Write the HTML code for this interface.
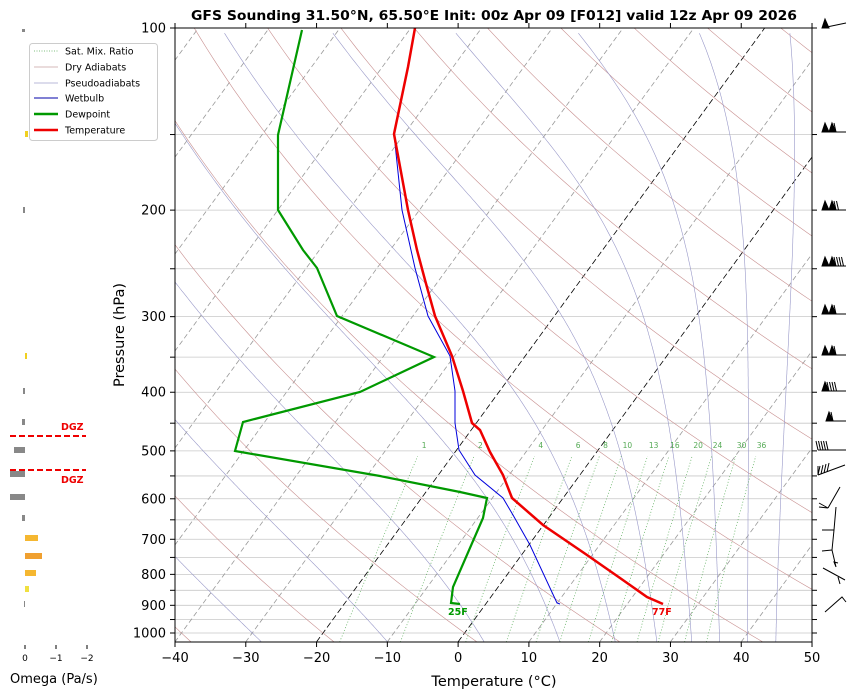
<!DOCTYPE html>
<html><head><meta charset="utf-8"><style>
html,body{margin:0;padding:0;background:#fff;width:853px;height:694px;overflow:hidden}
svg{display:block;font-family:"DejaVu Sans","Liberation Sans",sans-serif}
</style></head><body>
<svg id="s" width="853" height="694" viewBox="0 0 853 694" xmlns="http://www.w3.org/2000/svg">
<defs><clipPath id="c"><rect x="175" y="28" width="637" height="614"/></clipPath></defs>
<g id="bg" clip-path="url(#c)"></g>
<g id="fg" clip-path="url(#c)">
<polyline fill="none" stroke="#0000dd" stroke-width="1" points="560,604 557,603 530,545 513,515 503,498 475,475 459,450 455,423 455,391 450,356 428,316 415,268 402,210 394,134 408,67 415,30"/>
<polyline fill="none" stroke="#009900" stroke-width="2.2" points="460,604 451,603 453,587 483,518 487,498 460,492 380,476 235,451 243,422 360,392 434,357 337,316 317,268 303,250 278,210 278,135 302,30"/>
<polyline fill="none" stroke="#ee0000" stroke-width="2.5" points="663,604 647,597 620,578 587,555 543,525 512,498 503,475 490,452 480,430 472,423 463,391 452,356 435,316 425,280 417,250 408,210 394,134 408,67 415,28"/>
</g>
<text x="448" y="615" font-size="9.5" font-weight="bold" fill="#009900">25F</text>
<text x="652" y="615" font-size="9.5" font-weight="bold" fill="#ee0000">77F</text>
<rect x="175" y="28" width="637" height="614" fill="none" stroke="#000" stroke-width="1"/>
<g id="ax" font-size="13" fill="#000"></g>
<text x="494" y="20" font-size="13" font-weight="bold" text-anchor="middle" textLength="606" lengthAdjust="spacingAndGlyphs">GFS Sounding 31.50°N, 65.50°E Init: 00z Apr 09 [F012] valid 12z Apr 09 2026</text>
<text x="494" y="686" font-size="14.5" text-anchor="middle">Temperature (°C)</text>
<text transform="translate(124,335) rotate(-90)" font-size="14.5" text-anchor="middle">Pressure (hPa)</text>
<g font-size="9.5">
<rect x="29.5" y="43.5" width="128" height="97" rx="3" fill="#fff" stroke="#ccc"/>
<line x1="34" y1="51" x2="58" y2="51" stroke="#55aa55" stroke-dasharray="1,1.5" stroke-width="0.8"/><text x="65" y="54.5">Sat. Mix. Ratio</text>
<line x1="34" y1="67" x2="58" y2="67" stroke="#c8a0a0" stroke-width="0.8"/><text x="65" y="70.5">Dry Adiabats</text>
<line x1="34" y1="83" x2="58" y2="83" stroke="#a0a0cc" stroke-width="0.8"/><text x="65" y="86.5">Pseudoadiabats</text>
<line x1="34" y1="98" x2="58" y2="98" stroke="#0000aa" stroke-width="1"/><text x="65" y="101.5">Wetbulb</text>
<line x1="34" y1="114" x2="58" y2="114" stroke="#009900" stroke-width="2.5"/><text x="65" y="117.5">Dewpoint</text>
<line x1="34" y1="130" x2="58" y2="130" stroke="#ee0000" stroke-width="2.5"/><text x="65" y="133.5">Temperature</text>
</g>
<g>
<rect x="22" y="29" width="3" height="3" fill="#888"/>
<rect x="25" y="131" width="3" height="6" fill="#f0d020"/>
<rect x="23" y="207" width="2" height="6" fill="#888"/>
<rect x="25" y="353" width="2" height="6" fill="#f0d020"/>
<rect x="23" y="388" width="2" height="6" fill="#888"/>
<rect x="22" y="419" width="3" height="6" fill="#888"/>
<rect x="14" y="447" width="11" height="6" fill="#888"/>
<rect x="10" y="471" width="15" height="6" fill="#888"/>
<rect x="10" y="494" width="15" height="6" fill="#888"/>
<rect x="22" y="515" width="3" height="6" fill="#888"/>
<rect x="25" y="535" width="13" height="6" fill="#f5b731"/>
<rect x="25" y="553" width="17" height="6" fill="#f0a030"/>
<rect x="25" y="570" width="11" height="6" fill="#f5b731"/>
<rect x="25" y="586" width="4" height="6" fill="#f0e040"/>
<rect x="24" y="601" width="1" height="6" fill="#888"/>
<line x1="10" y1="436" x2="86" y2="436" stroke="#ee0000" stroke-width="2" stroke-dasharray="6,3"/>
<line x1="10" y1="470" x2="86" y2="470" stroke="#ee0000" stroke-width="2" stroke-dasharray="6,3"/>
<text x="61" y="430" font-size="9.5" font-weight="bold" fill="#ee0000">DGZ</text>
<text x="61" y="483" font-size="9.5" font-weight="bold" fill="#ee0000">DGZ</text>
<g stroke="#000"><line x1="25" y1="645" x2="25" y2="649"/><line x1="56" y1="645" x2="56" y2="649"/><line x1="87" y1="645" x2="87" y2="649"/></g>
<g font-size="9" text-anchor="middle"><text x="25" y="661">0</text><text x="56" y="661">−1</text><text x="87" y="661">−2</text></g>
<text x="10" y="683" font-size="13">Omega (Pa/s)</text>
</g>
<g id="barbs" stroke="#000" stroke-width="1" fill="#000"></g>
<g stroke="#000" stroke-width="1" fill="none">
<path d="M828,508 L840,487 M828,508 L819,503 M828,508 L819,507"/>
<path d="M834,530 L836,507 M834,530 L822,530"/>
<path d="M832,550 L834,530 M832,550 L822,551 M832,550 L836,567 M836,567 L834,562 L838,563"/>
<path d="M823,568 L845,580 M838,577 L840,584"/>
<path d="M825,612 L842,597 L846,602"/>
</g>
</svg>
<script>
(function(){
var NS="http://www.w3.org/2000/svg";
function Y(p){return 28+605*Math.log10(p/100);}
function X(T,y){return 458+7.078*T+0.73*(642-y);}
var bg=document.getElementById('bg'),ax=document.getElementById('ax'),bb=document.getElementById('barbs');
function el(par,tag,a,txt){var e=document.createElementNS(NS,tag);for(var k in a)e.setAttribute(k,a[k]);if(txt!==undefined)e.textContent=txt;par.appendChild(e);return e;}
var levels=[100,150,200,250,300,350,400,450,500,550,600,650,700,750,800,850,900,950,1000];
levels.forEach(function(p){var y=Y(p);el(bg,'line',{x1:175,x2:812,y1:y,y2:y,stroke:'#c8c8c8','stroke-width':0.8});
 el(ax,'line',{x1:170,x2:175,y1:y,y2:y,stroke:'#000'});el(ax,'line',{x1:812,x2:817,y1:y,y2:y,stroke:'#000'});
 if(p%100==0)el(ax,'text',{x:166,y:y+4.5,'text-anchor':'end'},String(p));});
var pb=100*Math.pow(10,(642-28)/605);
function curve(f,p0,p1,attrs){var pts=[];for(var i=0;i<=60;i++){var p=p0*Math.pow(p1/p0,i/60);var y=Y(p);var T=f(p);pts.push(X(T,y).toFixed(1)+','+y.toFixed(1));}
 var a={points:pts.join(' '),fill:'none'};for(var k in attrs)a[k]=attrs[k];el(bg,'polyline',a);}
for(var T=-130;T<=50;T+=10){var a={x1:X(T,642),y1:642,x2:X(T,28),y2:28,stroke:'#999','stroke-width':0.8,'stroke-dasharray':'5,3'};
 if(T==0||T==-20){a.stroke='#000';a['stroke-dasharray']='6,3';}el(bg,'line',a);}
for(var th=-60;th<=220;th+=20){(function(th){curve(function(p){return (th+273.15)*Math.pow(p/1000,0.2857)-273.15;},pb,100,{stroke:'#c89090','stroke-width':0.6});})(th);}
function es(T){return 6.112*Math.exp(17.67*T/(T+243.5));}
function dTdp(Tk,pp){var rs=0.622*es(Tk-273.15)/(pp-es(Tk-273.15));var Rd=287,Lv=2.5e6,cp=1005;
  return (Rd*Tk+Lv*rs)/(pp*(cp+Lv*Lv*rs*0.622/(Rd*Tk*Tk)));}
[-50,-30,-12,2,13,21,27,32,36,40,44].forEach(function(t0){var pts=[];
 var Tk=t0+273.15,pp=1000,dp=2;while(pp<pb){Tk+=dTdp(Tk,pp)*dp;pp+=dp;}
 while(pp>100){var y=Y(pp);pts.push(X(Tk-273.15,y).toFixed(1)+','+y.toFixed(1));Tk-=dTdp(Tk,pp)*dp;pp-=dp;}
 el(bg,'polyline',{points:pts.join(' '),fill:'none',stroke:'#9898c8','stroke-width':0.6});});
[1,2,4,6,8,10,13,16,20,24,30,36].forEach(function(w){
 function td(p){var e=(w/1000)*p/(0.622+w/1000);var l=Math.log(e/6.112);return 243.5*l/(17.67-l);}
 curve(td,pb,510,{stroke:'#55aa55','stroke-width':0.7,'stroke-dasharray':'1,2'});
 var y=445;el(document.getElementById('s'),'text',{x:X(td(500),y),y:y+3,'font-size':7.5,fill:'#55aa55','text-anchor':'middle'},String(w));});
for(var i=0;i<=9;i++){var x=175+70.78*i;el(ax,'line',{x1:x,x2:x,y1:642,y2:647,stroke:'#000'});el(ax,'line',{x1:x,x2:x,y1:28,y2:23,stroke:'#000'});
 var v=-40+10*i;el(ax,'text',{x:x,y:662,'text-anchor':'middle'},(v<0?'−':'')+Math.abs(v));}
function barb(y,flags,fulls,halfs,x0){x0=x0||822;el(bb,'line',{x1:x0,y1:y,x2:846,y2:y-(flags==1&&fulls==0?5:0)});
 var x=x0;for(var i=0;i<flags;i++){el(bb,'polygon',{points:x+','+y+' '+(x+3)+','+(y-9)+' '+(x+7)+','+y});x+=7;}
 for(i=0;i<fulls;i++){el(bb,'line',{x1:x,y1:y,x2:x-2,y2:y-9});x+=2.5;}
 for(i=0;i<halfs;i++){el(bb,'line',{x1:x+1,y1:y,x2:x,y2:y-5});}}
barb(28,1,0,0);barb(132,2,1,0);barb(210,2,2,0);barb(266,2,4,0);barb(314,2,1,0);
barb(355,2,1,0);barb(391,1,4,0);barb(421,1,1,0,826);barb(450,0,5,0,818);
el(bb,'path',{d:'M818,475 L845,465 M818,475 L818,466 M818,475 L820,466 M821,474 L823,465 M824,473 L826,464 M827,472 L829,463',fill:'none'});
})();
</script>
</body></html>
